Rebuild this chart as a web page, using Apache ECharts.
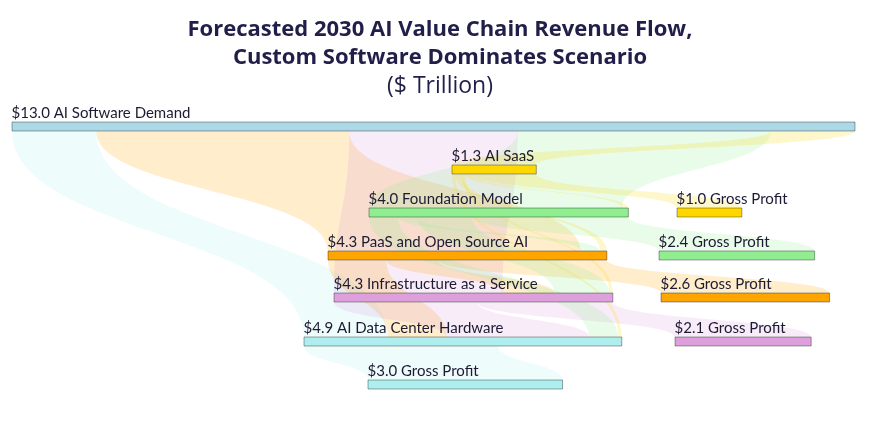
<!DOCTYPE html>
<html>
<head>
<meta charset="utf-8">
<script src="https://cdn.jsdelivr.net/npm/echarts@6/dist/echarts.min.js"></script>
<style>
html,body{margin:0;padding:0;background:#ffffff;}
#chart{width:880px;height:431px;}
</style>
</head>
<body>
<div id="chart"></div>
<script>
// ---------- DATA ----------
const nodeIds = ['demand','saas','fm','paas','iaas','dc','gpSaas','gpFm','gpPaas','gpIaas','gpDc'];
const nodeLabels = ['AI Software Demand','AI SaaS','Foundation Model','PaaS and Open Source AI',
  'Infrastructure as a Service','AI Data Center Hardware',
  'Gross Profit','Gross Profit','Gross Profit','Gross Profit','Gross Profit'];
const nodeValues = [13.0, 1.3, 4.0, 4.3, 4.3, 4.9, 1.0, 2.4, 2.6, 2.1, 3.0];

// links (order matters for band stacking)
const linkSources = ['demand','demand','demand','demand','demand',
  'paas','paas','paas',
  'iaas','iaas',
  'fm','fm','fm','fm',
  'saas','saas','saas','saas','saas',
  'dc'];
const linkTargets = ['dc','paas','iaas','fm','saas',
  'dc','iaas','gpPaas',
  'dc','gpIaas',
  'dc','paas','iaas','gpFm',
  'dc','paas','iaas','fm','gpSaas',
  'gpDc'];
const linkValues = [1.3, 3.9, 2.6, 3.9, 1.3,
  0.9, 0.8, 2.6,
  2.2, 2.1,
  0.45, 0.3, 0.85, 2.4,
  0.05, 0.1, 0.05, 0.1, 1.0,
  3.0];

// ---------- LAYOUT / STYLE ----------
const chartW = 880, chartH = 431;
const seriesLeft = 12, seriesRight = 25;
const seriesW = chartW - seriesLeft - seriesRight;
const nodeLayout = {            // left edge (px), top edge (px)
  demand: [12, 122], saas: [452, 165], fm: [369, 208], paas: [328, 251],
  iaas: [334, 293], dc: [304, 337], gpSaas: [677, 208], gpFm: [659, 251],
  gpPaas: [661, 293], gpIaas: [675, 337], gpDc: [368, 380]
};
const nodeColors = {
  demand: '#add8e6', saas: '#ffd700', gpSaas: '#ffd700', fm: '#90ee90', gpFm: '#90ee90',
  paas: '#ffa500', gpPaas: '#ffa500', iaas: '#dda0dd', gpIaas: '#dda0dd',
  dc: '#afeeee', gpDc: '#afeeee'
};
const depthOf = {demand:0, saas:1, gpSaas:2, fm:3, gpFm:4, paas:5, gpPaas:6, iaas:7, gpIaas:8, dc:9, gpDc:10};

const labelById = {};
nodeIds.forEach((id, i) => { labelById[id] = nodeLabels[i]; });

const nodes = nodeIds.map((id, i) => ({
  name: id,
  value: nodeValues[i],
  depth: depthOf[id],
  localX: (nodeLayout[id][0] - seriesLeft) / seriesW,
  localY: nodeLayout[id][1] / chartH,
  itemStyle: { color: nodeColors[id] }
}));

const links = linkSources.map((s, i) => {
  const t = linkTargets[i];
  return {
    source: s, target: t, value: linkValues[i],
    lineStyle: { color: s === 'demand' ? nodeColors[t] : nodeColors[s] }
  };
});

const chart = echarts.init(document.getElementById('chart'), null, {renderer: 'canvas'});
chart.setOption({
  animation: false,
  backgroundColor: '#ffffff',
  title: {
    left: 'center',
    top: 11,
    text: '{b|Forecasted 2030 AI Value Chain Revenue Flow,}\n{b|Custom Software Dominates Scenario}\n{r|($ Trillion)}',
    textStyle: {
      rich: {
        b: { fontFamily: 'Open Sans', fontWeight: 'bold', fontSize: 22, lineHeight: 28, color: '#211f4a' },
        r: { fontFamily: 'Open Sans', fontWeight: 'normal', fontSize: 23, lineHeight: 28, color: '#211f4a' }
      }
    }
  },
  series: [{
    type: 'sankey',
    orient: 'vertical',
    left: seriesLeft, right: seriesRight, top: 0, bottom: 0,
    nodeWidth: 9,
    nodeGap: 0,
    layoutIterations: 0,
    nodeAlign: 'left',
    draggable: false,
    emphasis: { disabled: true },
    itemStyle: { borderColor: 'rgba(0,0,0,0.35)', borderWidth: 1 },
    lineStyle: { opacity: 0.2, curveness: 0.5 },
    label: {
      show: true,
      position: [0, -1],
      align: 'left',
      verticalAlign: 'bottom',
      fontFamily: 'Lato',
      fontSize: 15,
      color: '#1c1b33',
      formatter: p => '$' + Number(p.value).toFixed(1) + ' ' + labelById[p.name]
    },
    data: nodes,
    links: links
  }]
});
</script>
</body>
</html>
